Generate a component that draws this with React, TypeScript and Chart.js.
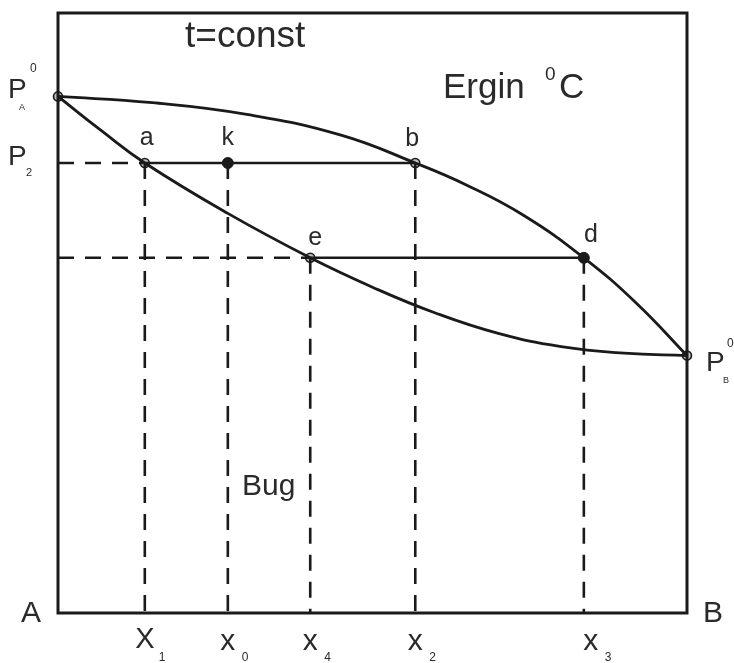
import { useEffect, useRef } from 'react';
import { Chart, registerables } from 'chart.js';

Chart.register(...registerables);

// Upper curve (liquid line): mole fraction of B vs. total vapour pressure
const liquidX = [0, 0.15, 0.3, 0.45, 0.568, 0.65, 0.74, 0.836, 0.92, 1.0];
const liquidP = [86.1, 85.05, 83.1, 79.65, 75.0, 71.3, 66.3, 59.2, 51.6, 42.9];

// Lower curve (vapour line)
const vaporX = [0, 0.07, 0.138, 0.27, 0.401, 0.5, 0.6, 0.7, 0.8, 0.9, 1.0];
const vaporP = [86.1, 80.3, 75.0, 66.6, 59.2, 54.3, 50.0, 46.6, 44.4, 43.3, 42.9];

// Pure-component pressures
const pureA = 86.1;
const pureB = 42.9;

// Tie-line pressure levels: P2 and the lower one
const levelP2 = 75.0;
const levelLow = 59.2;

// Compositions marked on the bottom axis
const compValues = [0.138, 0.27, 0.401, 0.568, 0.836];
const compLetters = ['X', 'x', 'x', 'x', 'x'];
const compSubs = ['1', '0', '4', '2', '3'];
const compLevels = [levelP2, levelP2, levelLow, levelP2, levelLow];

// Named state points
const pointNames = ['a', 'k', 'b', 'e', 'd'];
const pointX = [0.138, 0.27, 0.568, 0.401, 0.836];
const pointP = [levelP2, levelP2, levelP2, levelLow, levelLow];
const pointFilled = [false, true, false, false, true];

const FONT = '"Liberation Sans", Arial, Helvetica, sans-serif';
const INK = '#1a1a1a';
const TEXT = '#2a2a2a';
const DASH = [16, 11];

const toXY = (xs: number[], ys: number[]) => xs.map((x, i) => ({ x, y: ys[i] }));

const framePlugin = {
  id: 'frame',
  afterDatasetsDraw(chart: any) {
    const { ctx, chartArea: ca } = chart;
    ctx.save();
    ctx.strokeStyle = INK;
    ctx.lineWidth = 3;
    ctx.strokeRect(ca.left, ca.top, ca.right - ca.left, ca.bottom - ca.top);
    ctx.restore();
  },
};

const labelPlugin = {
  id: 'labels',
  afterDraw(chart: any) {
    const { ctx, chartArea: ca } = chart;
    const xs = chart.scales.x;
    const ys = chart.scales.y;
    const put = (s: string, x: number, y: number, size: number, align: CanvasTextAlign = 'left') => {
      ctx.font = `${size}px ${FONT}`;
      ctx.textAlign = align;
      ctx.textBaseline = 'alphabetic';
      ctx.fillText(s, x, y);
    };
    ctx.save();
    ctx.fillStyle = TEXT;

    // Titles inside the frame
    put('t=const', ca.left + 127, ca.top + 34, 37);
    put('Ergin', ca.left + 385, ca.top + 85, 35);
    put('0', ca.left + 487, ca.top + 67, 19);
    put('C', ca.left + 501, ca.top + 85, 35);
    put('Bug', ca.left + 184, ca.top + 482, 30);

    // Pure-component pressures and P2
    const yA = ys.getPixelForValue(pureA);
    put('P', 8, yA + 2, 28);
    put('0', 30, yA - 24, 12);
    put('A', 19, yA + 14, 9);

    const y2 = ys.getPixelForValue(levelP2);
    put('P', 8, y2 + 2, 28);
    put('2', 26, y2 + 13, 11);

    const yB = ys.getPixelForValue(pureB);
    put('P', 706, yB + 15, 28);
    put('0', 727, yB - 9, 12);
    put('B', 723, yB + 27, 9);

    // Component names at the ends of the axis
    put('A', 31, ca.bottom + 9, 30, 'center');
    put('B', 703, ca.bottom + 9, 30);

    // State point letters
    const pointDx = [2, 0, -3, 5, 7];
    const pointDy = [-18, -18, -17, -13, -16];
    pointNames.forEach((n, i) => {
      put(n, xs.getPixelForValue(pointX[i]) + pointDx[i], ys.getPixelForValue(pointP[i]) + pointDy[i], 25, 'center');
    });

    // Composition labels below the axis
    compValues.forEach((v, i) => {
      const px = xs.getPixelForValue(v) + (i === 4 ? 7 : 0);
      const upper = compLetters[i] === 'X';
      put(compLetters[i], px, ca.bottom + (upper ? 35 : 37), upper ? 29 : 30, 'center');
      put(compSubs[i], px + 14, ca.bottom + 48, 12);
    });
    ctx.restore();
  },
};

export default function App() {
  const ref = useRef<HTMLCanvasElement>(null);

  useEffect(() => {
    if (!ref.current) return;

    const dashedLines: any[] = [
      { data: [{ x: 0, y: levelP2 }, { x: compValues[0], y: levelP2 }] },
      { data: [{ x: 0, y: levelLow }, { x: compValues[2], y: levelLow }] },
      ...compValues.map((v, i) => ({ data: [{ x: v, y: compLevels[i] }, { x: v, y: 0 }] })),
    ].map((d) => ({
      ...d,
      showLine: true,
      borderColor: INK,
      borderWidth: 2.6,
      borderDash: DASH,
      pointRadius: 0,
    }));

    const tieLines: any[] = [
      { data: [{ x: pointX[0], y: levelP2 }, { x: pointX[2], y: levelP2 }] },
      { data: [{ x: pointX[3], y: levelLow }, { x: pointX[4], y: levelLow }] },
    ].map((d) => ({
      ...d,
      showLine: true,
      borderColor: INK,
      borderWidth: 2.6,
      pointRadius: 0,
    }));

    const curves: any[] = [
      { data: toXY(liquidX, liquidP) },
      { data: toXY(vaporX, vaporP) },
    ].map((d) => ({
      ...d,
      showLine: true,
      borderColor: INK,
      borderWidth: 2.8,
      tension: 0.45,
      pointRadius: 0,
    }));

    const openPts = pointNames.map((_, i) => i).filter((i) => !pointFilled[i]);
    const filledPts = pointNames.map((_, i) => i).filter((i) => pointFilled[i]);

    const markers: any[] = [
      {
        data: [
          ...openPts.map((i) => ({ x: pointX[i], y: pointP[i] })),
          { x: 0, y: pureA },
          { x: 1, y: pureB },
        ],
        showLine: false,
        pointRadius: 4.5,
        pointBackgroundColor: '#bdbdbd',
        pointBorderColor: INK,
        pointBorderWidth: 1.6,
        clip: false,
      },
      {
        data: filledPts.map((i) => ({ x: pointX[i], y: pointP[i] })),
        showLine: false,
        pointRadius: 5.5,
        pointBackgroundColor: INK,
        pointBorderColor: INK,
        pointBorderWidth: 1,
        clip: false,
      },
    ];

    const chart = new Chart(ref.current, {
      type: 'scatter',
      data: { datasets: [...dashedLines, ...tieLines, ...curves, ...markers] },
      options: {
        animation: false,
        responsive: false,
        events: [],
        layout: { padding: { left: 58, right: 47, top: 13, bottom: 50 } },
        plugins: { legend: { display: false }, tooltip: { enabled: false } },
        scales: {
          x: { type: 'linear', min: 0, max: 1, display: false },
          y: { type: 'linear', min: 0, max: 100, display: false },
        },
      },
      plugins: [framePlugin, labelPlugin],
    });
    return () => chart.destroy();
  }, []);

  return (
    <div style={{ position: 'fixed', left: 0, top: 0, width: 734, height: 663, background: '#fff' }}>
      <canvas ref={ref} width={734} height={663} style={{ display: 'block' }} />
    </div>
  );
}
